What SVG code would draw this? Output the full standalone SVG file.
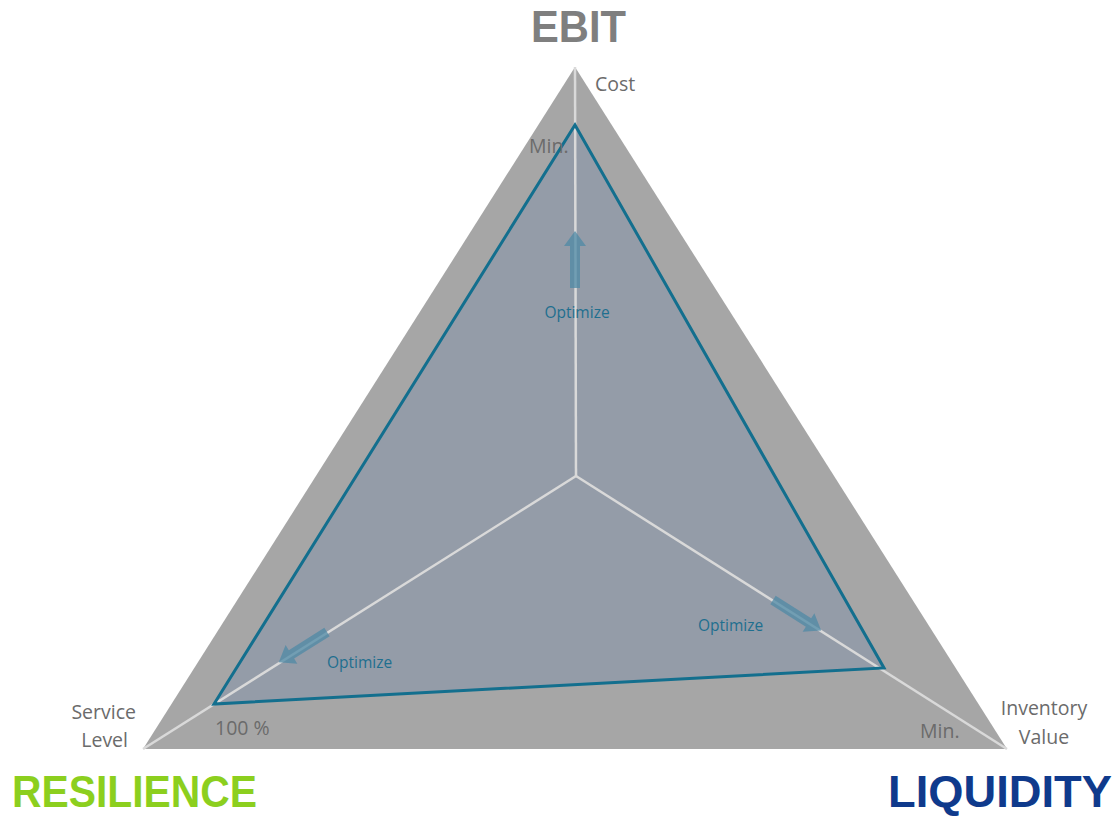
<svg xmlns="http://www.w3.org/2000/svg" width="1114" height="818" viewBox="0 0 1114 818">
<defs>
<style>
.ax{stroke:#d9d9d9;stroke-width:2.5;fill:none}
.lbl{font-family:"Open Sans","Noto Sans",sans-serif;font-size:19.5px;fill:#6b6b6b}
.opt{font-family:"Open Sans","Noto Sans",sans-serif;font-size:15.5px;fill:#1f6f8f}
.big{font-family:"Liberation Sans",Arial,sans-serif;font-size:44px;font-weight:bold}
.arr{fill:#4f89a5;fill-opacity:0.75}
</style>
<polygon id="arrowShape" points="0,-5 42,-5 42,-11 57,0 42,11 42,5 0,5"/>
</defs>
<rect width="1114" height="818" fill="#ffffff"/>
<g id="outer">
<polygon points="575,67 1007,749 143,749" fill="#a6a6a6"/>
</g>
<g id="inner">
<polygon points="575,125 884,668 214,704" fill="#8e98a8" fill-opacity="0.75"/>
</g>
<g id="connectors">
<line class="ax" x1="576" y1="476" x2="575" y2="67"/>
<line class="ax" x1="576" y1="476" x2="143" y2="749"/>
<line class="ax" x1="576" y1="476" x2="1007" y2="749"/>
<polygon points="575,125 884,668 214,704" fill="none" stroke="#136f8e" stroke-width="3" stroke-linejoin="miter"/>
</g>
<g id="arrows">
<use href="#arrowShape" class="arr" transform="translate(575,288) rotate(-90)"/>
<use href="#arrowShape" class="arr" transform="translate(327,632) rotate(147.8)"/>
<use href="#arrowShape" class="arr" transform="translate(773,600) rotate(32.3)"/>
</g>
<g id="labels">
<text class="big" x="531" y="42" textLength="95" lengthAdjust="spacingAndGlyphs" fill="#7f7f7f">EBIT</text>
<text class="big" x="12" y="807" textLength="245" lengthAdjust="spacingAndGlyphs" fill="#8ccf1e">RESILIENCE</text>
<text class="big" x="888" y="807" textLength="224" lengthAdjust="spacingAndGlyphs" fill="#0f3a8c">LIQUIDITY</text>
<text class="lbl" x="595" y="91">Cost</text>
<text class="lbl" x="529" y="153">Min.</text>
<text class="lbl" x="136" y="719" text-anchor="end">Service</text>
<text class="lbl" x="128" y="747" text-anchor="end">Level</text>
<text class="lbl" x="215" y="735">100 %</text>
<text class="lbl" x="920" y="738">Min.</text>
<text class="lbl" x="1044" y="715" text-anchor="middle">Inventory</text>
<text class="lbl" x="1044" y="744" text-anchor="middle">Value</text>
<text class="opt" x="577" y="318" text-anchor="middle">Optimize</text>
<text class="opt" x="327" y="668">Optimize</text>
<text class="opt" x="698" y="631">Optimize</text>
</g>
</svg>
